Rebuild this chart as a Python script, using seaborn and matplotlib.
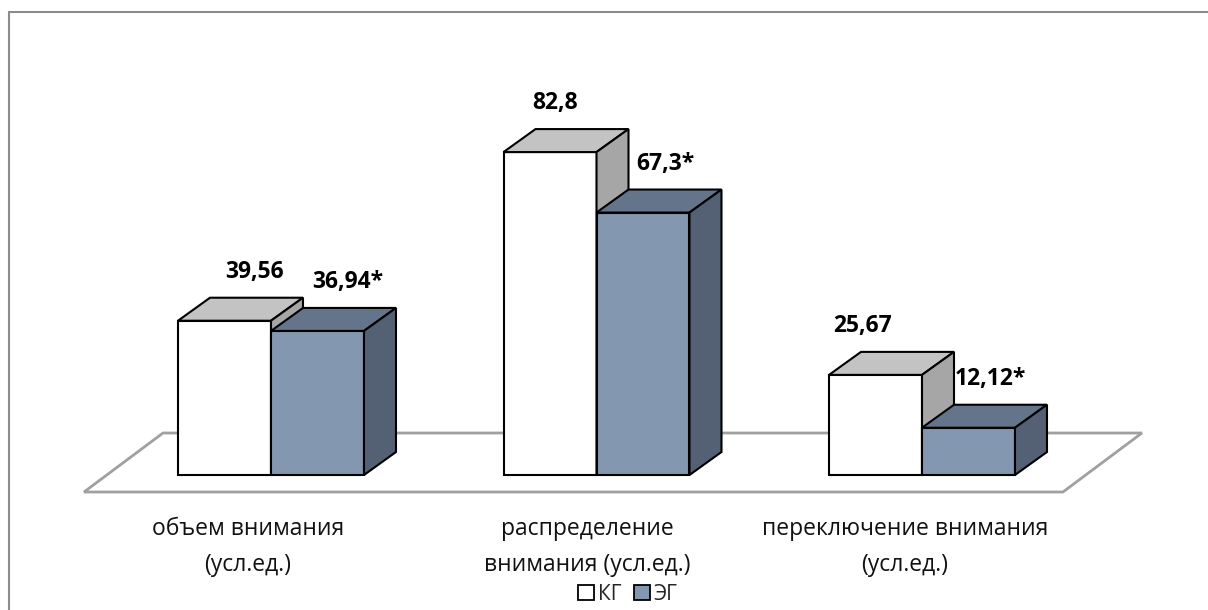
import matplotlib
matplotlib.use("Agg")
import matplotlib.pyplot as plt
from matplotlib.patches import Polygon, Patch
from matplotlib.lines import Line2D
import seaborn as sns
import pandas as pd

# --- data -------------------------------------------------------------
categories = ["объем внимания\n(усл.ед.)",
              "распределение\nвнимания (усл.ед.)",
              "переключение внимания\n(усл.ед.)"]
groups = ["КГ", "ЭГ"]
kg_values = [39.56, 82.8, 25.67]
eg_values = [36.94, 67.3, 12.12]
kg_labels = ["39,56", "82,8", "25,67"]
eg_labels = ["36,94*", "67,3*", "12,12*"]

# --- style --------------------------------------------------------------
sns.set_theme(style="white")
plt.rcParams["font.family"] = ["Open Sans", "DejaVu Sans"]

front = {"КГ": "#ffffff", "ЭГ": "#8497b0"}
top = {"КГ": "#c3c3c3", "ЭГ": "#64748a"}
side = {"КГ": "#a6a6a6", "ЭГ": "#546174"}

W, H, DPI = 1208, 610, 100
fig = plt.figure(figsize=(W / DPI, H / DPI), dpi=DPI)
fig.patch.set_facecolor("white")

# axes laid out in pixels
px_per_cat = 325.5
px_per_val = 3.9
xlim = (-0.8, 2.8)
ylim = (-10, 110)
ax_left = 271 - (0 - xlim[0]) * px_per_cat
ax_w = (xlim[1] - xlim[0]) * px_per_cat
base_from_bottom = H - 475
ax_bottom = base_from_bottom + ylim[0] * px_per_val
ax_h = (ylim[1] - ylim[0]) * px_per_val
ax = fig.add_axes([ax_left / W, ax_bottom / H, ax_w / W, ax_h / H])

df = pd.DataFrame({
    "cat": categories * 2,
    "group": [groups[0]] * 3 + [groups[1]] * 3,
    "value": kg_values + eg_values,
})

sns.barplot(data=df, x="cat", y="value", hue="group", order=categories,
            hue_order=groups, palette=front, saturation=1, width=0.5714,
            gap=0, edgecolor="black", linewidth=1.5, legend=False, ax=ax)
ax.set_xlim(*xlim)
ax.set_ylim(*ylim)
ax.set_axis_off()

# depth of the 3D extrusion, in pixels -> data units
depth_px = (32, 23)
ddx = depth_px[0] / px_per_cat
ddy = depth_px[1] / px_per_val

# floor of the 3D scene
fl_front_y = -17 / px_per_val
fl_back_y = fl_front_y + 59 / px_per_val
fl_front = (-0.5745, 2.433)
fl_shift = 79 / px_per_cat
floor = Polygon([(fl_front[0], fl_front_y), (fl_front[1], fl_front_y),
                 (fl_front[1] + fl_shift, fl_back_y),
                 (fl_front[0] + fl_shift, fl_back_y)],
                closed=True, facecolor="white", edgecolor="#a0a0a0",
                linewidth=2, zorder=1)
ax.add_patch(floor)

# extrude each bar: top and right faces
bars = [b for b in ax.patches if b is not floor]
label_sets = {"КГ": kg_labels, "ЭГ": eg_labels}
label_dx = {"КГ": [-2, -27, -45], "ЭГ": [-2, -10, -10]}
for gi, g in enumerate(groups):
    for ci in range(len(categories)):
        b = bars[gi * len(categories) + ci]
        x0, w, h = b.get_x(), b.get_width(), b.get_height()
        z = 3 + gi
        b.set_zorder(z)
        tp = Polygon([(x0, h), (x0 + w, h), (x0 + w + ddx, h + ddy),
                      (x0 + ddx, h + ddy)], closed=True,
                     facecolor=top[g], edgecolor="black", linewidth=1.5,
                     joinstyle="miter", zorder=z + 0.1)
        sd = Polygon([(x0 + w, 0), (x0 + w + ddx, ddy),
                      (x0 + w + ddx, h + ddy), (x0 + w, h)], closed=True,
                     facecolor=side[g], edgecolor="black", linewidth=1.5,
                     joinstyle="miter", zorder=z + 0.1)
        ax.add_patch(tp)
        ax.add_patch(sd)
        ax.annotate(label_sets[g][ci],
                    xy=(x0 + w / 2 + ddx, h + ddy),
                    xytext=(label_dx[g][ci], 26), textcoords="offset pixels",
                    ha="center", va="center", fontsize=16.5,
                    fontweight="bold", color="black", zorder=10)

# category labels under the floor
cat_dx = [-23, -9, -17]
for ci, lab in enumerate(categories):
    ax.annotate(lab, xy=(ci, 0), xytext=(cat_dx[ci], -42),
                textcoords="offset pixels", ha="center", va="top",
                multialignment="center", fontsize=16.5, linespacing=1.68,
                color="#111111")

# legend
handles = [Patch(facecolor=front[g], edgecolor="black", linewidth=1.3)
           for g in groups]
fig.legend(handles, groups, loc="center", bbox_to_anchor=(628 / W, 1 - 594 / H),
           ncol=2, frameon=False, fontsize=15, handlelength=0.75,
           handleheight=0.75, handletextpad=0.2, columnspacing=0.6,
           borderpad=0)

# chart area border (top and left edges)
fig.add_artist(Line2D([9 / W, 1], [1 - 12 / H, 1 - 12 / H],
                      color="#8c8c8c", linewidth=1.5))
fig.add_artist(Line2D([9 / W, 9 / W], [0, 1 - 12 / H],
                      color="#8c8c8c", linewidth=1.5))

fig.savefig("out.png", dpi=DPI, facecolor="white")
